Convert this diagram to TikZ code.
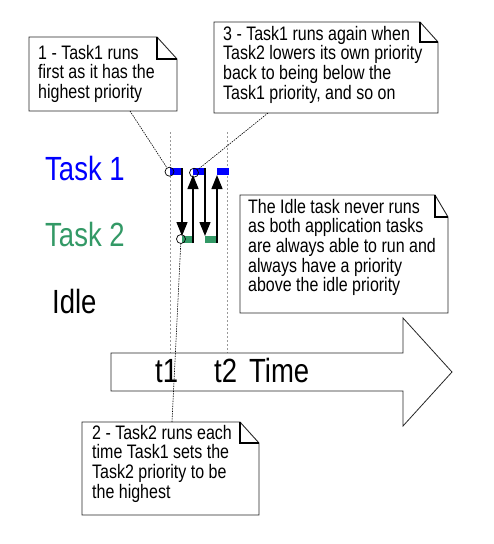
\documentclass[tikz,border=0pt]{standalone}
\usepackage{fontspec}
\setmainfont{Liberation Sans}
\usepackage{graphicx}
\usetikzlibrary{arrows.meta}
\definecolor{taskblue}{RGB}{0,0,255}
\definecolor{taskgreen}{RGB}{51,153,102}
\tikzset{>={Triangle[length=14pt,width=11pt]}}
\tikzset{%
  note/.style={draw=black!85, line width=0.9pt, fill=white},
  fold/.style={draw=black, line width=1.3pt},
  pointer/.style={draw=black, line width=0.6pt, dash pattern=on 1.5pt off 1pt},
  tickline/.style={draw=black!40, line width=1pt, dash pattern=on 2pt off 2pt},
  runbar/.style={line width=7pt},
  switch/.style={->, line width=1.4pt},
  ring/.style={circle, draw, line width=0.7pt, minimum size=9pt, inner sep=0pt},
  notetext/.style={anchor=base west, inner sep=0pt, font=\fontsize{16}{15.2}\selectfont},
  bigtext/.style={anchor=base west, inner sep=0pt, font=\fontsize{27.5}{30}\selectfont},
}
% text in the reference is taller than it is wide
\newcommand{\tall}[1]{\scalebox{1}[1.22]{#1}}
% folded note: x0, y0, x1, y1, fold x, fold y
\newcommand{\notebox}[6]{%
  \draw[note] (#1,#2) -- (#5,#2) -- (#3,#6) -- (#3,#4) -- (#1,#4) -- cycle;
  \draw[fold] (#5,#2) -- (#5,#6) -- (#3,#6);
}
\begin{document}
\begin{tikzpicture}[x=1pt, y=-1pt]
  \useasboundingbox (0,0) rectangle (494,544);

  % task names
  \node[bigtext, text=taskblue] (task1) at (45,180) {\tall{Task 1}};
  \node[bigtext, text=taskgreen] (task2) at (45,246) {\tall{Task 2}};
  \node[bigtext] (idle) at (52,313) {\tall{Idle}};

  % dashed time marks
  \draw[tickline] (170,132) -- (170,353);
  \draw[tickline] (227,132) -- (227,353);

  % time arrow
  \draw[note, line width=0.8pt] (111,353) -- (403,353) -- (403,318) -- (452,372)
    -- (403,426) -- (403,391) -- (111,391) -- cycle;
  \node[bigtext] (t1) at (155,382) {\tall{t1}};
  \node[bigtext] (t2) at (214,382) {\tall{t2}};
  \node[bigtext] (time) at (249,382) {\tall{Time}};

  % running slots
  \foreach \a/\b in {170/182, 193/205, 217/229}
    \draw[runbar, taskblue] (\a,171.5) -- (\b,171.5);
  \foreach \a/\b in {182/193, 205/217}
    \draw[runbar, taskgreen] (\a,239.5) -- (\b,239.5);

  % context switches
  \foreach \x in {182,205}
    \draw[switch] (\x,168) -- (\x,236);
  \foreach \x in {193,217}
    \draw[switch] (\x,243) -- (\x,175);

  % marked points
  \node[ring] (c1) at (169.5,171.7) {};
  \node[ring] (c3) at (194,172.7) {};
  \node[ring] (c2) at (181,239) {};

  % notes
  \notebox{29}{37}{177}{111}{157}{59}
  \node[notetext] (note1) at (38,59) {\tall{\begin{tabular}[t]{@{}l@{}}1 - Task1 runs\\first as it has the\\highest priority\end{tabular}}};

  \notebox{214}{22}{438}{113}{420}{42}
  \node[notetext] (note3) at (223,40) {\tall{\begin{tabular}[t]{@{}l@{}}3 - Task1 runs again when\\Task2 lowers its own priority\\back to being below the\\Task1 priority, and so on\end{tabular}}};

  \notebox{240}{195}{448}{313}{435}{217}
  \node[notetext] (noteidle) at (248,213) {\tall{\begin{tabular}[t]{@{}l@{}}The Idle task never runs\\as both application tasks\\are always able to run and\\always have a priority\\above the idle priority\end{tabular}}};

  \notebox{82}{422}{259}{515}{240}{443}
  \node[notetext] (note2) at (92,439) {\tall{\begin{tabular}[t]{@{}l@{}}2 - Task2 runs each\\time Task1 sets the\\Task2 priority to be\\the highest\end{tabular}}};

  % pointers from the notes
  \coordinate (p1) at (130,111);
  \coordinate (p3) at (268,113);
  \coordinate (p2) at (172,422);
  \draw[pointer] (p1) -- (c1);
  \draw[pointer] (p3) -- (c3);
  \draw[pointer] (p2) -- (c2);

\end{tikzpicture}
\end{document}
